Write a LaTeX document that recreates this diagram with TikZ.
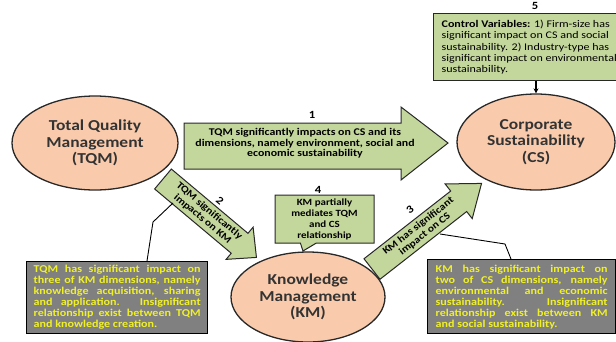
\documentclass[tikz,border=0pt]{standalone}
\usepackage{fontspec}
\setmainfont{Carlito}[FakeStretch=1.15]
\newfontfamily\ctrlfont{Carlito}[FakeStretch=1.18]
\usetikzlibrary{shapes.geometric,shapes.callouts,arrows.meta}
\definecolor{peach}{RGB}{249,203,172}
\definecolor{lgreen}{RGB}{195,214,155}
\definecolor{gfill}{RGB}{128,128,128}
\definecolor{ytxt}{RGB}{240,240,40}
\definecolor{outl}{RGB}{40,40,40}
\newcommand{\notefont}{\fontsize{10.5}{11}\selectfont\bfseries\tolerance=10000\relax\hyphenpenalty=10000\relax}
\begin{document}
\begin{tikzpicture}[x=1pt,y=-1pt,
  construct/.style={ellipse, draw=outl, line width=1.3pt, fill=peach, inner sep=0pt,
    font=\fontsize{15.2}{16.5}\selectfont\bfseries, align=center, text=black!80},
  greenshape/.style={draw=outl, line width=1pt, fill=lgreen},
  arrowtext/.style={font=\fontsize{10}{10.5}\selectfont\bfseries, align=center, inner sep=0pt},
  numlabel/.style={font=\fontsize{11}{12}\selectfont\bfseries, inner sep=0pt},
  greybox/.style={draw=black, line width=1.3pt, fill=gfill, text=ytxt,
    font=\notefont, align=justify, inner xsep=7pt, inner ysep=3pt, anchor=north west},
  calloutline/.style={draw=black, line width=0.9pt}]

\useasboundingbox (0,0) rectangle (616,341);

% constructs
\node[construct, minimum width=166pt, minimum height=94pt] (tqm) at (95,143) {Total Quality\\Management\\(TQM)};
\node[construct, minimum width=158pt, minimum height=96pt] (cs) at (536,142) {Corporate\\Sustainability\\(CS)};
\node[construct, minimum width=154pt, minimum height=90pt] (km) at (308,297) {Knowledge\\Management\\(KM)};

% arrow 1
\draw[greenshape] (184,123) -- (401,123) -- (401,107) -- (448,143) -- (401,180) -- (401,169) -- (184,169) -- cycle;
\node[arrowtext, font=\fontsize{10.3}{10.5}\selectfont\bfseries] (a1) at (305,143.5)
  {TQM significantly impacts on CS and its\\dimensions, namely environment, social and\\economic sustainability};
\node[numlabel] (n1) at (312,115) {1};

% arrow 2
\begin{scope}[shift={(163,179)}, rotate=-40]
\draw[greenshape] (0,-13) -- (100,-13) -- (100,-21) -- (122,0) -- (100,21) -- (100,13) -- (0,13) -- cycle;
\node[arrowtext, rotate=-40] (a2) at (56,0) {TQM significantly\\impacts on KM};
\end{scope}
\node[numlabel, rotate=-40] (n2) at (220,201) {2};

% arrow 3
\begin{scope}[shift={(372,269)}, rotate=38]
\draw[greenshape] (0,-13) -- (110,-13) -- (110,-22) -- (139,0) -- (110,22) -- (110,13) -- (0,13) -- cycle;
\node[arrowtext, rotate=38] (a3) at (63,0) {KM has significant\\impact on CS};
\end{scope}
\node[numlabel, rotate=38] (n3) at (410,210) {3};

% callout 4
\node[rectangle callout, callout absolute pointer={(303,251)}, callout pointer width=16pt,
  draw=outl, line width=1pt, fill=lgreen, minimum width=99pt, minimum height=48pt,
  inner sep=0pt, align=center, font=\fontsize{9.5}{11}\selectfont\bfseries] (med) at (324.5,219)
  {KM partially\\mediates TQM\\and CS\\relationship};
\node[numlabel] (n4) at (318,190) {4};

% control variables
\node[draw=outl, line width=1.3pt, fill=lgreen, anchor=north west, align=left, inner xsep=8pt,
  minimum height=67pt, font=\ctrlfont\fontsize{10.2}{11.2}\selectfont] (ctrl) at (433,13)
  {\textbf{Control Variables:} 1) Firm-size has\\significant impact on CS and social\\sustainability. 2) Industry-type has\\significant impact on environmental\\sustainability.};
\node[numlabel] (n5) at (535,6) {5};
\draw[-{Stealth[length=5pt,width=5pt]}, line width=1.1pt] (ctrl.south -| cs.north) -- (cs.north);

% grey notes
\node[greybox, text width=167pt, minimum height=72pt] (lnote) at (26,261)
  {TQM has significant impact on\linebreak three of KM dimensions, namely\linebreak knowledge acquisition, sharing\linebreak and application. Insignificant\linebreak relationship exist between TQM\linebreak and knowledge creation.};
\node[greybox, text width=172pt, inner xsep=8pt, minimum height=74pt] (rnote) at (427,259)
  {KM has significant impact on\linebreak two of CS dimensions, namely\linebreak environmental and economic\linebreak sustainability. Insignificant\linebreak relationship exist between KM\linebreak and social sustainability.};

\coordinate (lb) at (147,261);
\coordinate (lm) at (153,222);
\coordinate (lk) at (173,203);
\draw[calloutline] (lb) -- (lm) -- (lk);
\coordinate (rb) at (511,259);
\coordinate (rm) at (505,244);
\coordinate (rk) at (440,234);
\draw[calloutline] (rb) -- (rm) -- (rk);
\end{tikzpicture}
\end{document}
